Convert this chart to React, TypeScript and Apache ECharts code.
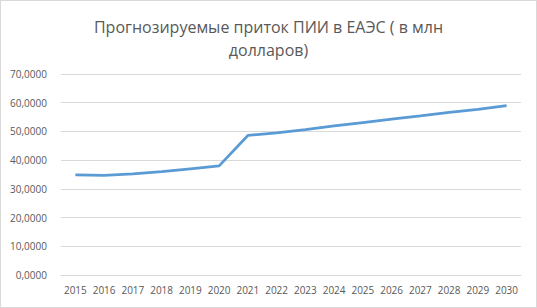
import React, { useEffect, useRef } from "react";
import * as echarts from "echarts";

const titleText = "Прогнозируемые приток ПИИ в ЕАЭС ( в млн\nдолларов)";
const years = ["2015","2016","2017","2018","2019","2020","2021","2022","2023","2024","2025","2026","2027","2028","2029","2030"];
const inflow = [34.9, 34.7, 35.2, 36.0, 37.0, 38.0, 48.6, 49.5, 50.6, 51.9, 53.1, 54.3, 55.4, 56.6, 57.7, 59.0];
const yMin = 0;
const yMax = 70;
const yStep = 10;

export default function App() {
  const ref = useRef<HTMLDivElement>(null);
  useEffect(() => {
    document.body.style.margin = "0";
    const chart = echarts.init(ref.current!, null, { renderer: "svg" });
    chart.setOption({
      animation: false,
      backgroundColor: "#ffffff",
      title: {
        text: titleText,
        left: "center",
        top: 9,
        textStyle: {
          fontFamily: "Open Sans",
          fontWeight: "normal",
          fontSize: 16,
          color: "#595959",
          lineHeight: 23,
        },
      },
      grid: { left: 60, right: 15, top: 73, bottom: 32 },
      xAxis: {
        type: "category",
        data: years,
        boundaryGap: true,
        axisLine: { show: true, lineStyle: { color: "#d9d9d9" } },
        axisTick: { show: false },
        axisLabel: {
          color: "#595959",
          fontFamily: "Open Sans",
          fontSize: 10,
          margin: 10,
          interval: 0,
        },
      },
      yAxis: {
        type: "value",
        min: yMin,
        max: yMax,
        interval: yStep,
        axisLine: { show: false },
        axisTick: { show: false },
        splitLine: { lineStyle: { color: "#d9d9d9" } },
        axisLabel: {
          color: "#595959",
          fontFamily: "Open Sans",
          fontSize: 10,
          margin: 14,
          formatter: (v: number) => v.toFixed(4).replace(".", ","),
        },
      },
      series: [
        {
          type: "line",
          data: inflow,
          showSymbol: false,
          symbol: "none",
          lineStyle: { color: "#5B9BD5", width: 2.75 },
        },
      ],
    });
    return () => chart.dispose();
  }, []);
  return (
    <div
      ref={ref}
      style={{
        position: "absolute",
        left: 0,
        top: 0,
        width: 535,
        height: 306,
        border: "1px solid #d9d9d9",
      }}
    />
  );
}
